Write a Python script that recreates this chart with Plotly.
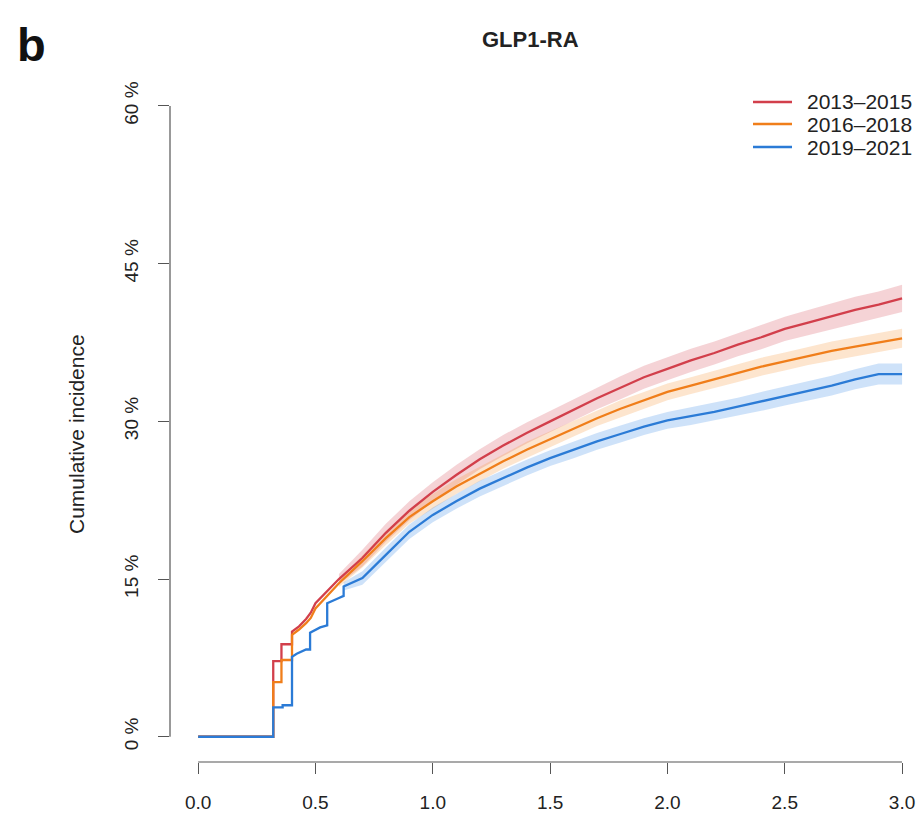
import plotly.graph_objects as go

# ---------------- data ----------------
# early, step-like part of each curve (time in years, cumulative incidence in %)
red_early_t = [0, 0.32, 0.32, 0.355, 0.355, 0.40, 0.40, 0.43, 0.46, 0.48, 0.5, 0.55, 0.6]
red_early_y = [0, 0, 7.2, 7.2, 8.8, 8.8, 10.0, 10.5, 11.2, 11.8, 12.7, 13.8, 15.0]
orange_early_t = [0, 0.32, 0.32, 0.355, 0.355, 0.40, 0.40, 0.43, 0.46, 0.48, 0.5, 0.55, 0.6]
orange_early_y = [0, 0, 5.2, 5.2, 7.3, 7.3, 9.7, 10.2, 10.8, 11.3, 12.2, 13.4, 14.6]
blue_early_t = [0, 0.32, 0.32, 0.36, 0.36, 0.40, 0.40, 0.42, 0.46, 0.477, 0.477, 0.52, 0.55, 0.55, 0.6, 0.62, 0.62]
blue_early_y = [0, 0, 2.8, 2.8, 3.0, 3.0, 7.6, 7.9, 8.3, 8.3, 9.9, 10.4, 10.6, 12.7, 13.2, 13.4, 14.3]

# smoother part, read at regular times
grid_t = [0.7, 0.8, 0.9, 1.0, 1.1, 1.2, 1.3, 1.4, 1.5, 1.6, 1.7, 1.8, 1.9, 2.0,
          2.1, 2.2, 2.3, 2.4, 2.5, 2.6, 2.7, 2.8, 2.9, 3.0]
red_s = [17.0, 19.4, 21.5, 23.3, 24.9, 26.4, 27.7, 28.9, 30.0, 31.1, 32.2, 33.2, 34.2, 35.0,
         35.8, 36.5, 37.3, 38.0, 38.8, 39.4, 40.0, 40.6, 41.1, 41.7]
orange_s = [16.7, 18.9, 20.9, 22.4, 23.8, 25.0, 26.2, 27.3, 28.3, 29.3, 30.3, 31.2, 32.0, 32.8,
            33.4, 34.0, 34.6, 35.2, 35.7, 36.2, 36.7, 37.1, 37.5, 37.9]
blue_s = [15.1, 17.3, 19.5, 21.1, 22.4, 23.6, 24.6, 25.6, 26.5, 27.3, 28.1, 28.8, 29.5, 30.1,
          30.5, 30.9, 31.4, 31.9, 32.4, 32.9, 33.4, 34.0, 34.5, 34.5]
# confidence band half-widths (percentage points)
red_hw = [0.8, 0.85, 0.9, 0.9, 0.95, 0.95, 1.0, 1.0, 1.0, 1.05, 1.05, 1.1, 1.1, 1.1,
          1.1, 1.1, 1.1, 1.15, 1.15, 1.2, 1.2, 1.25, 1.25, 1.3]
orange_hw = [0.6, 0.65, 0.65, 0.7, 0.7, 0.7, 0.7, 0.75, 0.75, 0.75, 0.75, 0.8, 0.8, 0.8,
             0.8, 0.8, 0.85, 0.85, 0.85, 0.85, 0.9, 0.9, 0.9, 0.9]
blue_hw = [0.65, 0.7, 0.7, 0.7, 0.7, 0.75, 0.75, 0.75, 0.75, 0.8, 0.8, 0.8, 0.8, 0.8,
           0.85, 0.85, 0.85, 0.9, 0.9, 0.9, 0.95, 0.95, 1.0, 1.0]

series_names = ["2013\u20132015", "2016\u20132018", "2019\u20132021"]
x_ticks = [0.0, 0.5, 1.0, 1.5, 2.0, 2.5, 3.0]
x_labels = ["0.0", "0.5", "1.0", "1.5", "2.0", "2.5", "3.0"]
y_ticks = [0, 15, 30, 45, 60]
y_labels = ["0 %", "15 %", "30 %", "45 %", "60 %"]
title_text = "GLP1-RA"
panel_letter = "b"
y_title = "Cumulative incidence"

# ---------------- styling ----------------
line_colors = ["#D23F4B", "#F07E1A", "#2B7BD6"]
band_colors = ["rgba(214,80,92,0.25)", "rgba(248,150,60,0.25)", "rgba(60,140,230,0.25)"]
FONT = "Liberation Sans, Arial, Helvetica, sans-serif"
W, H = 922, 815
L, R, T, B = 170, 0, 80, 53
XR = [-0.12, 3.085]
YR = [-2.4, 62.47]


def pxx(px):
    return (px - L) / (W - L - R)


def pxy(py):
    return (H - B - py) / (H - T - B)


fig = go.Figure()

series = [
    (red_early_t, red_early_y, red_s, red_hw),
    (orange_early_t, orange_early_y, orange_s, orange_hw),
    (blue_early_t, blue_early_y, blue_s, blue_hw),
]

for (et, ey, s, hw), bc in zip(series, band_colors):
    hi = [v + h for v, h in zip(s, hw)]
    lo = [v - h for v, h in zip(s, hw)]
    bt = [et[-1]] + grid_t
    bhi = [ey[-1] + hw[0] * 0.6] + hi
    blo = [ey[-1] - hw[0] * 0.6] + lo
    fig.add_trace(go.Scatter(
        x=bt + bt[::-1], y=bhi + blo[::-1], fill="toself", fillcolor=bc,
        line=dict(width=0), mode="lines", hoverinfo="skip", showlegend=False))

for (et, ey, s, hw), lc, nm in zip(series, line_colors, series_names):
    fig.add_trace(go.Scatter(x=et + grid_t, y=ey + s, mode="lines", name=nm,
                             line=dict(color=lc, width=2.3), showlegend=False))

axis_col = "#555555"
shapes = [
    dict(type="line", xref="x", yref="paper", x0=0, x1=3, y0=0, y1=0,
         line=dict(color=axis_col, width=1.2)),
    dict(type="line", xref="paper", yref="y", x0=0, x1=0, y0=0, y1=60,
         line=dict(color=axis_col, width=1.2)),
]

annotations = [
    dict(text="<b>" + title_text + "</b>", x=pxx(530), y=pxy(39), xref="paper", yref="paper",
         showarrow=False, font=dict(size=22, color="#222222", family=FONT), xanchor="center", yanchor="middle"),
    dict(text="<b>" + panel_letter + "</b>", x=pxx(31), y=pxy(44), xref="paper", yref="paper",
         showarrow=False, font=dict(size=47, color="#111111", family=FONT), xanchor="center", yanchor="middle"),
    dict(text=y_title, x=pxx(76), y=pxy(434), xref="paper", yref="paper", textangle=-90,
         showarrow=False, font=dict(size=21, color="#222222", family=FONT), xanchor="center", yanchor="middle"),
]

# manual legend
leg_rows = [102, 124, 147]
for nm, lc, ry in zip(series_names, line_colors, leg_rows):
    shapes.append(dict(type="line", xref="paper", yref="paper", x0=pxx(753), x1=pxx(792),
                       y0=pxy(ry), y1=pxy(ry), line=dict(color=lc, width=2.6)))
    annotations.append(dict(text=nm, x=pxx(805), y=pxy(ry), xref="paper", yref="paper",
                            showarrow=False, xanchor="left", yanchor="middle",
                            font=dict(size=21, color="#222222", family=FONT)))

fig.update_layout(
    width=W, height=H, margin=dict(l=L, r=R, t=T, b=B),
    paper_bgcolor="white", plot_bgcolor="white",
    shapes=shapes, annotations=annotations, showlegend=False,
    xaxis=dict(range=XR, showgrid=False, zeroline=False, showline=False,
               tickmode="array", tickvals=x_ticks, ticktext=x_labels,
               ticks="outside", ticklen=11, tickwidth=1.2, tickcolor=axis_col,
               tickfont=dict(size=19, color="#222222", family=FONT), ticklabelstandoff=12),
    yaxis=dict(range=YR, showgrid=False, zeroline=False, showline=False,
               tickmode="array", tickvals=y_ticks, ticktext=y_labels,
               ticks="outside", ticklen=11, tickwidth=1.2, tickcolor=axis_col, tickangle=-90,
               tickfont=dict(size=19, color="#222222", family=FONT), ticklabelstandoff=12),
)

fig.write_html("out.html")
